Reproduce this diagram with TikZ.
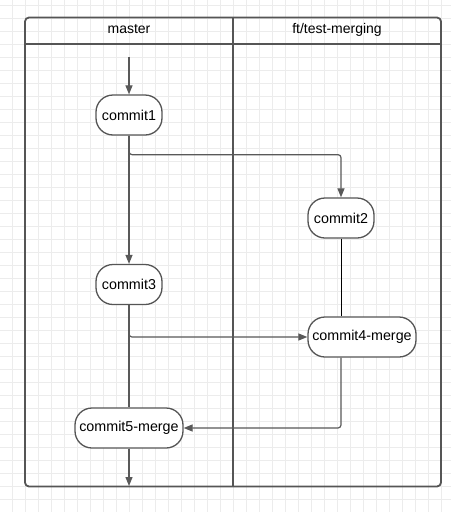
\documentclass[tikz,border=0pt]{standalone}
\usepackage{fontspec}
\setmainfont{Liberation Sans}
\usetikzlibrary{arrows.meta}
\definecolor{gridc}{HTML}{ECECEC}
\definecolor{linec}{HTML}{595959}
\definecolor{framec}{HTML}{555555}
\begin{document}
\begin{tikzpicture}[x=1pt,y=-1pt,
  commit/.style={draw=framec, line width=1.3pt, fill=white, rounded corners=17pt,
    minimum height=40pt, inner sep=2pt, font=\fontsize{14.3}{16}\selectfont},
  conn/.style={draw=linec, line width=1.2pt, rounded corners=3pt},
  branchln/.style={draw=black, line width=1pt, rounded corners=3pt},
  tip/.style={-{Triangle[length=9pt,width=7pt]}},
  lane/.style={font=\fontsize{14}{16}\selectfont}]
  % canvas and background grid
  \fill[white] (0,0) rectangle (451,512);
  \useasboundingbox (0,0) rectangle (451,512);
  \foreach \gx in {0,...,34} {\draw[gridc, line width=0.8pt] (12.7+13*\gx,0) -- (12.7+13*\gx,512);}
  \foreach \gy in {0,...,39} {\draw[gridc, line width=0.8pt] (0,5+13*\gy) -- (451,5+13*\gy);}
  % swimlane frame
  \draw[framec, line width=1.8pt, rounded corners=4pt] (25,17.5) rectangle (441,486.5);
  \draw[framec, line width=1.8pt] (25,44) -- (441,44);
  \draw[framec, line width=1.8pt] (233,17.5) -- (233,486.5);
  \node[lane] (lm) at (129,29.5) {master};
  \node[lane] (lf) at (337,29.5) {ft/test-merging};
  % commits
  \node[commit, minimum width=66pt] (c1) at (129,115) {commit1};
  \node[commit, minimum width=66pt] (c2) at (341,218) {commit2};
  \node[commit, minimum width=66pt] (c3) at (129,284.5) {commit3};
  \node[commit, minimum width=108pt] (c4) at (362,337) {commit4-merge};
  \node[commit, minimum width=108pt] (c5) at (129,428) {commit5-merge};
  \coordinate (start) at (129,57);
  \coordinate (finish) at (129,486);
  % connectors
  \draw[conn, tip] (start) -- (c1.north);
  \draw[conn, tip] (c1.south) -- (c3.north);
  \draw[conn, tip] (c1.south) -- ++(0,19) -| (c2.north);
  \draw[branchln] (c2.south) -- (c2.south |- c4.north);
  \draw[conn, tip] (c3.south) |- (c4.west);
  \draw[conn] (c3.south) -- (c5.north);
  \draw[conn, tip] (c2.south |- c4.south) |- (c5.east);
  \draw[conn, tip] (c5.south) -- (finish);
\end{tikzpicture}
\end{document}
